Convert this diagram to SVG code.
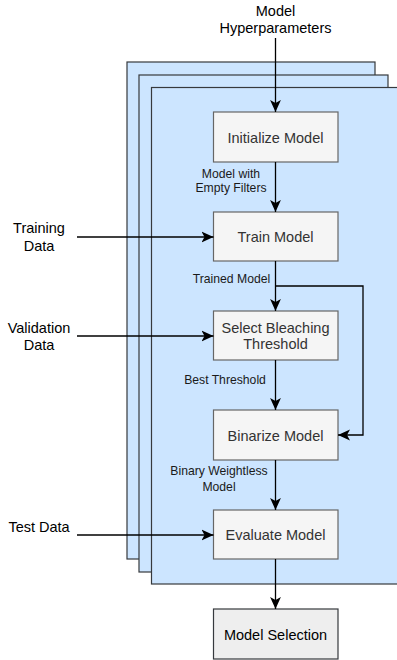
<svg xmlns="http://www.w3.org/2000/svg" width="397" height="660" viewBox="0 0 397 660">
<style>
.stack{fill:#cce5ff;stroke:#36393d;stroke-width:1.2}
.node rect{fill:#f5f5f5;stroke:#666;stroke-width:1.2}
.node text{fill:#333;font-family:"Liberation Sans",Arial,sans-serif;font-size:14.5px;text-anchor:middle}
#selection rect{fill:#eeeeee;stroke:#36393d}
#selection text{fill:#000}
.t{fill:#000;font-family:"Liberation Sans",Arial,sans-serif;font-size:14.5px;text-anchor:middle}
.lbl{fill:#1a1a1a;font-family:"Liberation Sans",Arial,sans-serif;font-size:12.2px;text-anchor:middle}
.e{fill:none;stroke:#000;stroke-width:1.3;marker-end:url(#arr)}
</style>
<defs>
<marker id="arr" markerUnits="userSpaceOnUse" markerWidth="12" markerHeight="12" viewBox="0 0 10 10" refX="10" refY="5" orient="auto">
<path d="M0,0.5 L10,5 L0,9.5 L2.5,5 Z" fill="#000"/>
</marker>
</defs>
<g id="stacks">
<rect class="stack" x="127" y="62" width="248" height="497"/>
<rect class="stack" x="139" y="75" width="249" height="497"/>
<rect class="stack" x="151.5" y="87.5" width="260" height="496.5"/>
</g>
<g id="inputs">
<text class="t" x="275.5" y="15.5">Model</text>
<text class="t" x="275.5" y="32.5">Hyperparameters</text>
<text class="t" x="39" y="233">Training</text>
<text class="t" x="39" y="250.5">Data</text>
<text class="t" x="39" y="333">Validation</text>
<text class="t" x="39" y="350">Data</text>
<text class="t" x="39" y="532">Test Data</text>
</g>
<g id="init" class="node"><rect x="213.5" y="112" width="124.5" height="50"/><text x="275.5" y="142.5">Initialize Model</text></g>
<g id="train" class="node"><rect x="213.5" y="212" width="124.5" height="49"/><text x="275.5" y="242">Train Model</text></g>
<g id="select" class="node"><rect x="213.5" y="311" width="124.5" height="49"/><text x="275.5" y="332.5">Select Bleaching</text><text x="275.5" y="349">Threshold</text></g>
<g id="binarize" class="node"><rect x="213.5" y="410" width="124.5" height="50"/><text x="275.5" y="440.5">Binarize Model</text></g>
<g id="evaluate" class="node"><rect x="213.5" y="510" width="124.5" height="49"/><text x="275.5" y="540">Evaluate Model</text></g>
<g id="selection" class="node"><rect x="213.5" y="609" width="124.5" height="50"/><text x="275.5" y="640">Model Selection</text></g>
<g id="connectors">
<path class="e" d="M275.5,38 V112"/>
<path class="e" d="M275.5,162 V212"/>
<path class="e" d="M275.5,261 V311"/>
<path class="e" d="M275.5,360 V410"/>
<path class="e" d="M275.5,460 V510"/>
<path class="e" d="M275.5,559 V609"/>
<path class="e" d="M275.5,286 H363 V435 H338"/>
<path class="e" d="M77,237 H213.5"/>
<path class="e" d="M77,336 H213.5"/>
<path class="e" d="M77,535 H213.5"/>
<text class="lbl" x="231" y="177.5">Model with</text>
<text class="lbl" x="231" y="192">Empty Filters</text>
<text class="lbl" x="231.5" y="283">Trained Model</text>
<text class="lbl" x="225" y="383.5">Best Threshold</text>
<text class="lbl" x="219" y="475">Binary Weightless</text>
<text class="lbl" x="219" y="490.5">Model</text>
</g>
</svg>
